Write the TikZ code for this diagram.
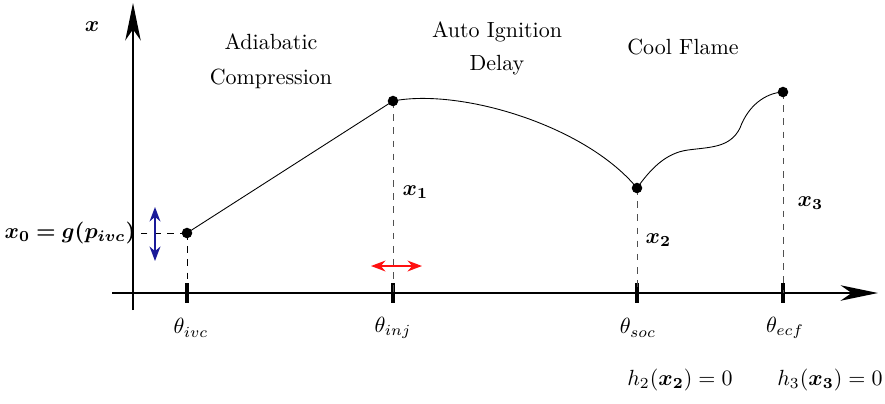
\documentclass[tikz,border=0pt]{standalone}
\usepackage{bm}
\usetikzlibrary{arrows.meta}
\definecolor{ShiftBlue}{HTML}{1A1A99}
\definecolor{ShiftRed}{HTML}{FF1010}
\definecolor{DropGray}{HTML}{505050}

\begin{document}
\begin{tikzpicture}[x=0.016cm, y=-0.016cm, >=Stealth]
    \useasboundingbox (0,0) rectangle (885,403);

    % ========== Axes ==========
    \coordinate (xstart) at (112,293);
    \coordinate (xend) at (878,293);
    \coordinate (ystart) at (133,310);
    \coordinate (yend) at (133,3);
    \draw[very thick, -{Stealth[length=17pt, width=7pt, inset=5pt]}] (xstart) -- (xend);
    \draw[very thick, -{Stealth[length=17pt, width=7pt, inset=5pt]}] (ystart) -- (yend);
    \node (xlab) at (92,27) {$\bm{x}$};

    % Ticks and crank angle labels
    \foreach \tx/\tn/\lx in {187/ivc/191, 393/inj/393, 637/soc/638, 783/ecf/785} {
        \draw[ultra thick] (\tx,283) -- (\tx,303);
        \node (th\tn) at (\lx,328) {$\theta_{\tn}$};
    }

    % ========== State points ==========
    \coordinate (p0) at (187,233);
    \coordinate (p1) at (393,101);
    \coordinate (p2) at (637,188);
    \coordinate (p3) at (783,92);

    % Drop lines
    \draw[dashed, DropGray] (p1) -- (p1 |- xstart);
    \draw[dashed, DropGray] (p2) -- (p2 |- xstart);
    \draw[dashed, DropGray] (p3) -- (p3 |- xstart);
    \draw[dashed] (p0) -- (p0 |- xstart);

    % Initial state label
    \node[anchor=east, inner sep=1pt] (x0lab) at (138,233) {$\bm{x_0 = g(p_{ivc})}$};
    \draw[dashed] (p0) -- (x0lab.east);

    % Trajectory
    \draw (p0) -- (p1);
    \draw (p1) .. controls (460,88) and (585,125) .. (p2);
    \draw (p2) .. controls (650,170) and (665,153) .. (688,150)
               .. controls (710,147) and (730,148) .. (740,128)
               .. controls (748,106) and (765,93) .. (p3);

    \foreach \p in {p0,p1,p2,p3}
        \fill (\p) circle (2.4pt);

    % State labels
    \node[anchor=west, inner sep=1pt] (x1lab) at (400,192) {$\bm{x_1}$};
    \node[anchor=west, inner sep=1pt] (x2lab) at (643,240) {$\bm{x_2}$};
    \node[anchor=west, inner sep=1pt] (x3lab) at (795,203) {$\bm{x_3}$};

    % Variations
    \coordinate (btop) at (155,207);
    \coordinate (bbot) at (155,261);
    \draw[<->, thick, ShiftBlue] (btop) -- (bbot);
    \coordinate (rleft) at (371,266);
    \coordinate (rright) at (422,266);
    \draw[<->, thick, ShiftRed] (rleft) -- (rright);

    % ========== Phase names ==========
    \node[align=center] (adiab) at (271,61) {Adiabatic\\[4pt]Compression};
    \node[align=center] (ignit) at (497,48) {Auto Ignition\\[3pt]Delay};
    \node (cool) at (683,47) {Cool Flame};

    % Constraints
    \node (h2lab) at (680,380) {$h_2(\bm{x_2}) = 0$};
    \node (h3lab) at (830,380) {$h_3(\bm{x_3}) = 0$};

\end{tikzpicture}
\end{document}
